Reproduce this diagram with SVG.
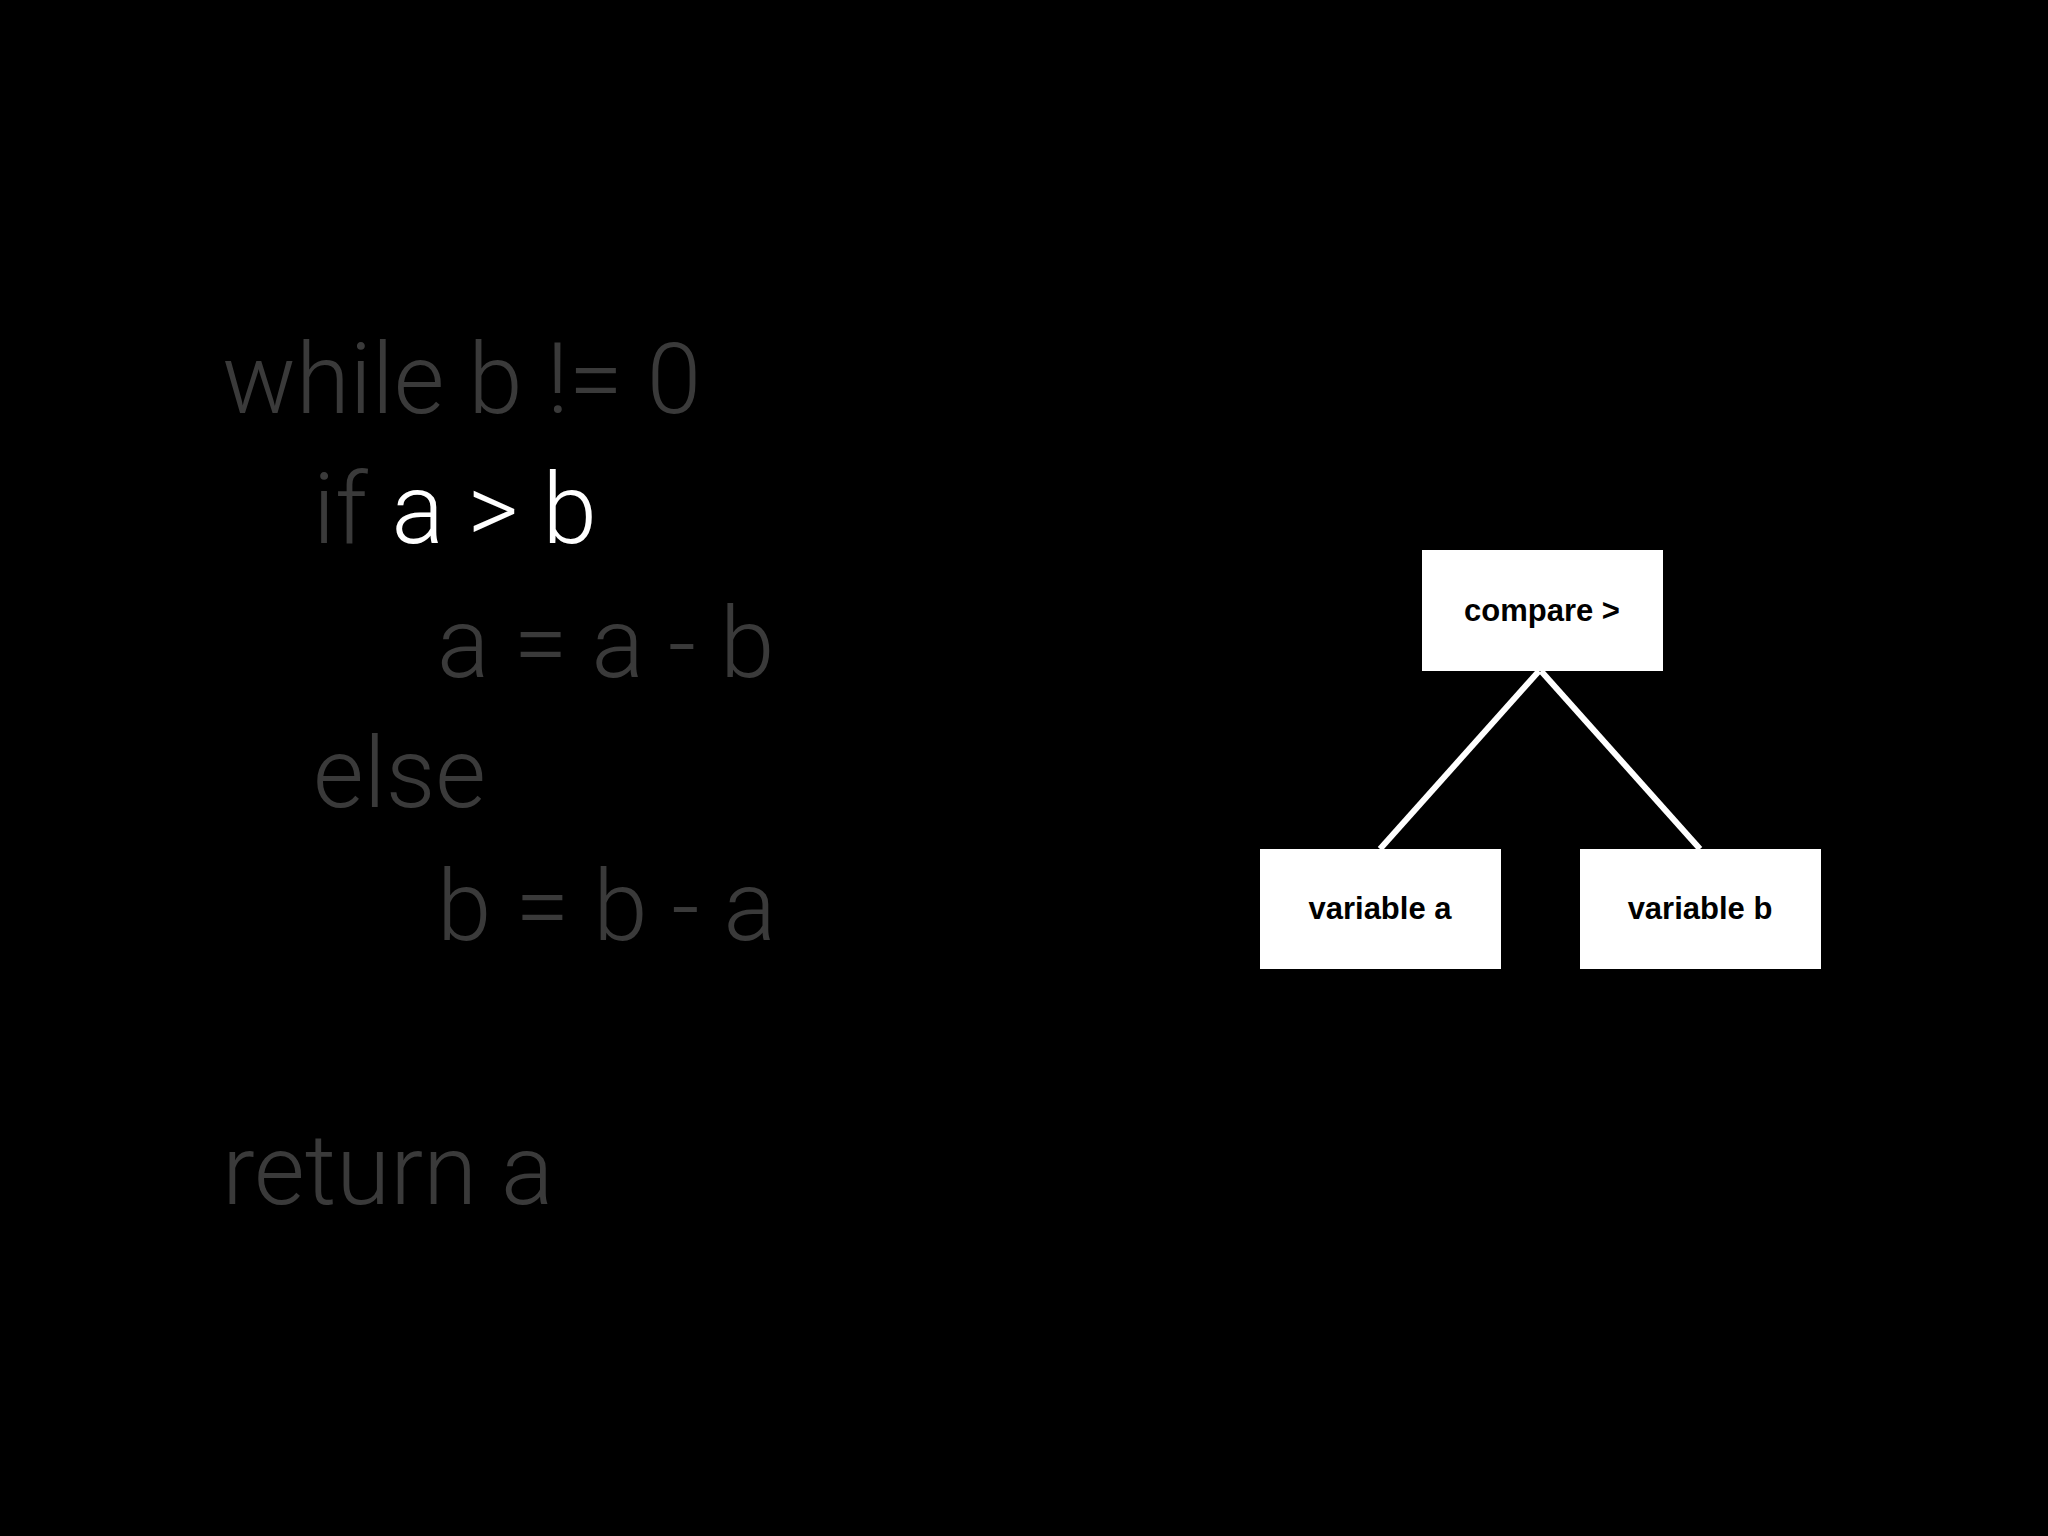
<svg xmlns="http://www.w3.org/2000/svg" width="2048" height="1536" viewBox="0 0 2048 1536">
<style>
.code{font-family:"Roboto","Open Sans","Liberation Sans",sans-serif;font-weight:300;font-size:98px;fill:#3a3a3a}
.hi{fill:#ffffff}
.box{fill:#ffffff}
.lbl{font-family:"Liberation Sans","Arial",sans-serif;font-weight:bold;font-size:31px;fill:#000;text-anchor:middle}
.edge{stroke:#ffffff;stroke-width:6;fill:none}
</style>
<rect width="2048" height="1536" fill="#000"/>
<g id="code">
<text class="code" x="222" y="413">while b != 0</text>
<text class="code" x="313" y="543">if <tspan class="hi">a &gt; b</tspan></text>
<text class="code" x="437" y="677">a = a - b</text>
<text class="code" x="313" y="807">else</text>
<text class="code" x="437" y="940">b = b - a</text>
<text class="code" x="222" y="1204">return a</text>
</g>
<g id="connectors">
<line class="edge" x1="1539" y1="671" x2="1380" y2="849"/>
<line class="edge" x1="1541" y1="671" x2="1700" y2="849"/>
</g>
<g id="compare">
<rect class="box" x="1422" y="550" width="241" height="121"/>
<text class="lbl" x="1542" y="621">compare &gt;</text>
</g>
<g id="varA">
<rect class="box" x="1260" y="849" width="241" height="120"/>
<text class="lbl" x="1380" y="919">variable a</text>
</g>
<g id="varB">
<rect class="box" x="1580" y="849" width="241" height="120"/>
<text class="lbl" x="1700" y="919">variable b</text>
</g>
</svg>
